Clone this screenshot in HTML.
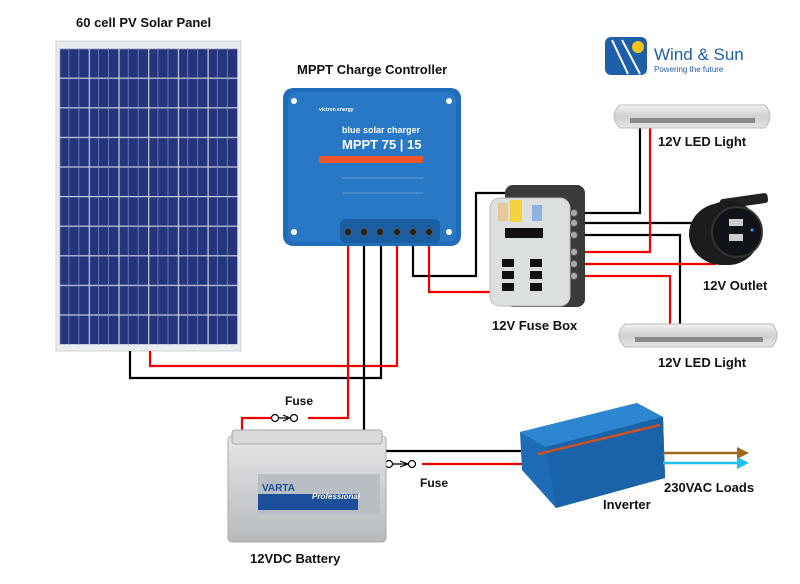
<!DOCTYPE html>
<html><head><meta charset="utf-8"><style>
html,body{margin:0;padding:0;background:#fff;}
svg{display:block}
text{font-family:"Liberation Sans",sans-serif;font-weight:bold;fill:#111;}
</style></head><body>
<svg width="800" height="584" viewBox="0 0 800 584" xmlns="http://www.w3.org/2000/svg">
<defs>
<pattern id="cells" x="59" y="48" width="29.7" height="29.6" patternUnits="userSpaceOnUse">
<rect width="29.7" height="29.6" fill="#24357e"/>
<rect x="0" y="0" width="29.7" height="1.2" fill="#c8cde0"/>
<rect x="0" y="0" width="1.2" height="29.6" fill="#c8cde0"/>
<rect x="9.5" y="0" width="0.7" height="29.6" fill="#8a95c0"/>
<rect x="19.5" y="0" width="0.7" height="29.6" fill="#8a95c0"/>
</pattern>
<linearGradient id="bat" x1="0" y1="0" x2="0" y2="1"><stop offset="0" stop-color="#e4e6e8"/><stop offset="1" stop-color="#b7babd"/></linearGradient>
<linearGradient id="led" x1="0" y1="0" x2="0" y2="1"><stop offset="0" stop-color="#f2f2f0"/><stop offset="0.5" stop-color="#cfd1cf"/><stop offset="1" stop-color="#e6e6e4"/></linearGradient>
</defs>

<!-- Titles -->
<text x="76" y="27" font-size="13">60 cell PV Solar Panel</text>
<text x="297" y="74" font-size="13">MPPT Charge Controller</text>

<!-- Solar panel -->
<rect x="56" y="41" width="185" height="310" fill="#e9ecef" stroke="#cfd3d6"/>
<rect x="59" y="48" width="179" height="297" fill="url(#cells)"/>

<!-- Logo -->
<rect x="605" y="37" width="42" height="38" rx="6" fill="#1d5fa8"/>
<circle cx="638" cy="47" r="6" fill="#f4c31a"/>
<path d="M612 40 L628 74 M622 40 L640 74" stroke="#fff" stroke-width="2"/>
<text x="654" y="60" font-size="17" font-weight="normal" style="font-weight:normal;fill:#1d5fa8">Wind &amp; Sun</text>
<text x="654" y="72" font-size="8" style="font-weight:normal;fill:#1d5fa8">Powering the future</text>

<!-- Wires (behind devices) -->
<g fill="none" stroke-width="2.2">
<!-- panel -->
<polyline points="130,351 130,378 381,378 381,232" stroke="#000"/>
<polyline points="150,351 150,366 397,366 397,232" stroke="#e00"/>
<!-- battery from controller -->
<polyline points="348,232 348,418 242,418 242,456" stroke="#e00"/>
<polyline points="364,232 364,450" stroke="#000"/>
<!-- load -->
<polyline points="413,232 413,276 476,276 476,193 512,193" stroke="#000"/>
<polyline points="429,232 429,292 536,292" stroke="#e00"/>
<!-- fusebox outputs -->
<polyline points="580,213 640,213 640,124" stroke="#000"/>
<polyline points="580,223 712,223" stroke="#000"/>
<polyline points="580,235 680,235 680,326" stroke="#000"/>
<polyline points="580,252 650,252 650,124" stroke="#e00"/>
<polyline points="580,264 716,264" stroke="#e00"/>
<polyline points="580,276 670,276 670,326" stroke="#e00"/>
<!-- battery to inverter -->
<polyline points="380,451 528,451" stroke="#000"/>
<polyline points="255,464 528,464" stroke="#e00"/>
</g>
<!-- fuses -->
<g fill="#fff" stroke="#000" stroke-width="1.2">
<rect x="272" y="413" width="36" height="10" fill="#fff" stroke="none"/>
<circle cx="275" cy="418" r="3.5"/><circle cx="294" cy="418" r="3.5"/>
<path d="M279 418 L290 418 M283 415 L290 418 L283 421" fill="none"/>
<rect x="386" y="459" width="36" height="10" fill="#fff" stroke="none"/>
<circle cx="389" cy="464" r="3.5"/><circle cx="412" cy="464" r="3.5"/>
<path d="M393 464 L408 464 M400 461 L408 464 L400 467" fill="none"/>
</g>

<!-- Controller -->
<rect x="283" y="88" width="178" height="158" rx="10" fill="#1f6db8"/>
<rect x="288" y="92" width="168" height="150" rx="8" fill="#2878c6"/>
<circle cx="294" cy="101" r="3" fill="#fff"/><circle cx="449" cy="101" r="3" fill="#fff"/>
<circle cx="294" cy="232" r="3" fill="#fff"/><circle cx="449" cy="232" r="3" fill="#fff"/>
<text x="319" y="111" font-size="5" style="fill:#fff">victron energy</text>
<text x="342" y="133" font-size="9" style="fill:#fff">blue solar charger</text>
<text x="342" y="149" font-size="13" style="fill:#fff">MPPT 75 | 15</text>
<rect x="319" y="156" width="104" height="7" fill="#f0562a"/>
<line x1="342" y1="178" x2="423" y2="178" stroke="#9cc" stroke-width="0.5"/>
<line x1="342" y1="193" x2="423" y2="193" stroke="#9cc" stroke-width="0.5"/>
<rect x="340" y="219" width="100" height="24" rx="6" fill="#1a5fa3"/>
<g fill="#222" stroke="#555"><circle cx="348" cy="232" r="3.5"/><circle cx="364" cy="232" r="3.5"/><circle cx="380" cy="232" r="3.5"/><circle cx="397" cy="232" r="3.5"/><circle cx="413" cy="232" r="3.5"/><circle cx="429" cy="232" r="3.5"/></g>

<!-- Fuse box -->
<rect x="505" y="185" width="80" height="122" rx="8" fill="#3a3a3a"/>
<rect x="490" y="198" width="80" height="108" rx="10" fill="#dcdfe0" stroke="#bbb"/>
<rect x="510" y="200" width="12" height="22" fill="#f3d43a"/>
<rect x="498" y="203" width="10" height="18" fill="#e8c89a"/>
<rect x="532" y="205" width="10" height="16" fill="#8fb3e0"/>
<rect x="505" y="228" width="38" height="10" fill="#111"/>
<g fill="#111"><rect x="502" y="259" width="12" height="8"/><rect x="530" y="259" width="12" height="8"/><rect x="502" y="271" width="12" height="8"/><rect x="530" y="271" width="12" height="8"/><rect x="502" y="283" width="12" height="8"/><rect x="530" y="283" width="12" height="8"/></g>
<g fill="#aaa" stroke="#555"><circle cx="574" cy="213" r="3.5"/><circle cx="574" cy="223" r="3.5"/><circle cx="574" cy="235" r="3.5"/><circle cx="574" cy="252" r="3.5"/><circle cx="574" cy="264" r="3.5"/><circle cx="574" cy="276" r="3.5"/></g>
<text x="492" y="330" font-size="13">12V Fuse Box</text>

<!-- LED lights -->
<path d="M620 105 L765 105 Q775 116 765 128 L620 128 Q608 116 620 105 Z" fill="url(#led)" stroke="#bbb"/>
<rect x="630" y="118" width="125" height="5" fill="#555" opacity="0.6"/>
<text x="658" y="146" font-size="13">12V LED Light</text>
<path d="M625 324 L772 324 Q782 335 772 347 L625 347 Q613 335 625 324 Z" fill="url(#led)" stroke="#bbb"/>
<rect x="635" y="337" width="128" height="5" fill="#555" opacity="0.6"/>
<text x="658" y="367" font-size="13">12V LED Light</text>

<!-- Outlet -->
<rect x="720" y="196" width="48" height="10" rx="3" fill="#222" transform="rotate(-8 744 201)"/>
<circle cx="728" cy="233" r="32" fill="#1a1a1a" transform="scale(1 1)"/>
<ellipse cx="722" cy="234" rx="33" ry="31" fill="#1c1c1c"/>
<circle cx="737" cy="232" r="25" fill="#101418" stroke="#333" stroke-width="2"/>
<rect x="729" y="219" width="14" height="7" fill="#ccc"/>
<rect x="729" y="234" width="14" height="7" fill="#ccc"/>
<circle cx="752" cy="230" r="1.5" fill="#39f"/>
<text x="703" y="290" font-size="13">12V Outlet</text>

<!-- Battery -->
<rect x="228" y="436" width="158" height="106" rx="4" fill="url(#bat)" stroke="#aaa"/>
<rect x="232" y="430" width="150" height="14" rx="3" fill="#d7d9db" stroke="#aaa"/>
<rect x="258" y="474" width="122" height="40" fill="#b9bdc4"/>
<rect x="258" y="494" width="100" height="16" fill="#1c4f99"/>
<text x="262" y="491" font-size="10" style="fill:#1c4f99">VARTA</text>
<text x="312" y="499" font-size="8" style="font-style:italic;fill:#fff">Professional</text>
<text x="250" y="563" font-size="13">12VDC Battery</text>
<text x="285" y="405" font-size="12">Fuse</text>
<text x="420" y="487" font-size="12">Fuse</text>

<!-- Inverter -->
<polygon points="520,432 637,403 663,417 665,478 556,508 522,470" fill="#1d6cb5"/>
<polygon points="520,432 637,403 663,417 546,447" fill="#2d86d0"/>
<line x1="538" y1="454" x2="660" y2="425" stroke="#c8502a" stroke-width="2.5"/>
<polygon points="546,447 663,417 665,478 556,508" fill="#1a63a8"/>
<line x1="538" y1="454" x2="660" y2="425" stroke="#c8502a" stroke-width="2.5"/>
<text x="603" y="509" font-size="13">Inverter</text>

<!-- AC outputs -->
<line x1="663" y1="453" x2="738" y2="453" stroke="#a0661e" stroke-width="2.5"/>
<polygon points="737,447 749,453 737,459" fill="#a0661e"/>
<line x1="663" y1="463" x2="738" y2="463" stroke="#1ec0f0" stroke-width="2.5"/>
<polygon points="737,457 749,463 737,469" fill="#1ec0f0"/>
<text x="664" y="492" font-size="13">230VAC Loads</text>
</svg>
</body></html>
